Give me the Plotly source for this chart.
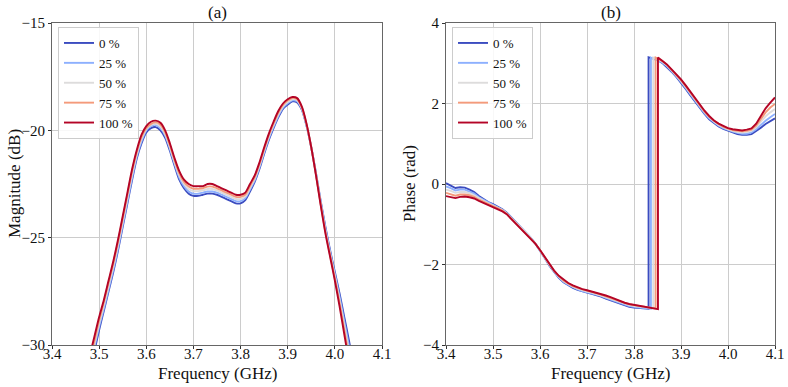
import plotly.graph_objects as go

# ---------------- data ----------------
series_labels = ["0 %", "25 %", "50 %", "75 %", "100 %"]
series_colors = ["#3b4cc0", "#8db0fe", "#dddcdc", "#f49a7b", "#b40426"]

# Magnitude (dB) sampled 3.47 .. 4.05 GHz, step 0.01
mag_freq = [round(3.47 + 0.01 * i, 2) for i in range(59)]
mag_0 = [-32.6, -31.5, -30.3, -29.3, -28.4, -27.5, -26.6, -25.6, -24.5, -23.4,
         -22.3, -21.3, -20.6, -20.1, -19.9, -19.85, -20.0, -20.35, -20.95, -21.65,
         -22.3, -22.7, -22.95, -23.05, -23.05, -23.0, -22.95, -22.95, -23.0, -23.1,
         -23.2, -23.3, -23.4, -23.4, -23.25, -22.85, -22.4, -21.8, -21.1, -20.45,
         -19.9, -19.4, -19.0, -18.8, -18.65, -18.7, -19.05, -19.8, -20.8, -22.0,
         -23.3, -24.5, -25.6, -26.6, -27.6, -28.7, -29.8, -31.0, -32.2]
mag_25 = [-32.3, -31.25, -30.1, -29.15, -28.3, -27.4, -26.5, -25.5, -24.4, -23.3,
          -22.2, -21.2, -20.5, -20.0, -19.8, -19.75, -19.9, -20.25, -20.85, -21.55,
          -22.2, -22.6, -22.85, -22.95, -22.95, -22.9, -22.85, -22.85, -22.9, -23.0,
          -23.1, -23.2, -23.3, -23.3, -23.16, -22.76, -22.33, -21.73, -21.03, -20.38,
          -19.83, -19.33, -18.94, -18.74, -18.6, -18.65, -19.01, -19.78, -20.8, -22.03,
          -23.35, -24.58, -25.68, -26.7, -27.75, -28.9, -30.05, -31.28, -32.5]
mag_50 = [-32.0, -31.0, -29.95, -29.0, -28.15, -27.25, -26.35, -25.35, -24.25, -23.15,
          -22.05, -21.1, -20.4, -19.95, -19.75, -19.7, -19.83, -20.18, -20.78, -21.48,
          -22.1, -22.5, -22.73, -22.83, -22.83, -22.8, -22.73, -22.73, -22.8, -22.9,
          -23.0, -23.1, -23.2, -23.2, -23.08, -22.68, -22.25, -21.65, -20.95, -20.3,
          -19.75, -19.25, -18.88, -18.68, -18.55, -18.6, -18.98, -19.75, -20.8, -22.05,
          -23.4, -24.65, -25.75, -26.8, -27.9, -29.1, -30.3, -31.55, -32.8]
mag_75 = [-31.7, -30.75, -29.8, -28.85, -28.0, -27.1, -26.2, -25.2, -24.1, -23.0,
          -21.9, -21.0, -20.3, -19.9, -19.7, -19.63, -19.74, -20.09, -20.69, -21.39,
          -22.0, -22.4, -22.62, -22.72, -22.72, -22.7, -22.62, -22.62, -22.7, -22.8,
          -22.9, -23.0, -23.1, -23.1, -22.99, -22.59, -22.18, -21.58, -20.88, -20.23,
          -19.68, -19.18, -18.81, -18.61, -18.5, -18.55, -18.94, -19.73, -20.8, -22.08,
          -23.45, -24.73, -25.83, -26.9, -28.05, -29.3, -30.55, -31.83, -33.1]
mag_100 = [-31.4, -30.5, -29.6, -28.7, -27.9, -27.0, -26.1, -25.1, -24.0, -22.9,
           -21.8, -20.9, -20.2, -19.8, -19.6, -19.55, -19.65, -20.0, -20.6, -21.3,
           -21.9, -22.3, -22.5, -22.6, -22.6, -22.6, -22.5, -22.5, -22.6, -22.7,
           -22.8, -22.9, -23.0, -23.0, -22.9, -22.5, -22.1, -21.5, -20.8, -20.15,
           -19.6, -19.1, -18.75, -18.55, -18.45, -18.5, -18.9, -19.7, -20.8, -22.1,
           -23.5, -24.8, -25.9, -27.0, -28.2, -29.5, -30.8, -32.1, -33.4]

# Phase (rad) sampled 3.40 .. 4.10 GHz, step 0.01 (wrapped at +/- pi)
ph_freq = [round(3.40 + 0.01 * i, 2) for i in range(71)]
ph_0 = [0.02, -0.03, -0.10, -0.08, -0.09, -0.14, -0.20, -0.30, -0.38, -0.45,
        -0.50, -0.56, -0.63, -0.72, -0.84, -0.96, -1.08, -1.20, -1.33, -1.48,
        -1.65, -1.84, -2.03, -2.19, -2.33, -2.44, -2.52, -2.58, -2.63, -2.67,
        -2.70, -2.73, -2.76, -2.80, -2.85, -2.89, -2.94, -2.98, -3.02, -3.05,
        -3.07, -3.08, -3.09, -3.10, 3.12, 3.08, 3.01, 2.91, 2.79, 2.66,
        2.52, 2.36, 2.20, 2.04, 1.88, 1.74, 1.61, 1.51, 1.43, 1.37,
        1.32, 1.28, 1.24, 1.22, 1.22, 1.24, 1.31, 1.40, 1.49, 1.56, 1.63]
ph_25 = [-0.06, -0.10, -0.16, -0.14, -0.14, -0.19, -0.24, -0.33, -0.40, -0.47,
         -0.52, -0.58, -0.64, -0.73, -0.85, -0.97, -1.09, -1.21, -1.33, -1.48,
         -1.65, -1.83, -2.02, -2.18, -2.32, -2.43, -2.50, -2.57, -2.62, -2.66,
         -2.69, -2.72, -2.75, -2.78, -2.83, -2.87, -2.92, -2.96, -3.00, -3.03,
         -3.05, -3.07, -3.08, -3.09, 3.12, 3.08, 3.02, 2.93, 2.81, 2.68,
         2.54, 2.38, 2.22, 2.06, 1.90, 1.76, 1.63, 1.53, 1.45, 1.39,
         1.34, 1.30, 1.27, 1.25, 1.25, 1.28, 1.36, 1.47, 1.57, 1.66, 1.74]
ph_50 = [-0.14, -0.17, -0.22, -0.20, -0.20, -0.23, -0.28, -0.36, -0.42, -0.48,
         -0.53, -0.59, -0.65, -0.74, -0.86, -0.98, -1.10, -1.21, -1.33, -1.48,
         -1.64, -1.83, -2.01, -2.17, -2.30, -2.41, -2.49, -2.55, -2.60, -2.64,
         -2.67, -2.70, -2.73, -2.77, -2.81, -2.85, -2.90, -2.94, -2.98, -3.01,
         -3.03, -3.05, -3.06, -3.07, -3.09, 3.11, 3.04, 2.95, 2.83, 2.70,
         2.56, 2.41, 2.25, 2.09, 1.93, 1.79, 1.66, 1.55, 1.47, 1.41,
         1.36, 1.32, 1.29, 1.28, 1.29, 1.32, 1.41, 1.55, 1.68, 1.78, 1.86]
ph_75 = [-0.22, -0.25, -0.29, -0.26, -0.26, -0.28, -0.32, -0.39, -0.45, -0.50,
         -0.55, -0.60, -0.66, -0.75, -0.87, -0.99, -1.10, -1.22, -1.34, -1.48,
         -1.64, -1.82, -2.01, -2.16, -2.29, -2.40, -2.47, -2.54, -2.58, -2.62,
         -2.65, -2.68, -2.71, -2.75, -2.79, -2.83, -2.88, -2.92, -2.96, -2.99,
         -3.01, -3.03, -3.05, -3.06, -3.08, 3.12, 3.06, 2.96, 2.84, 2.72,
         2.58, 2.43, 2.27, 2.11, 1.95, 1.80, 1.67, 1.57, 1.49, 1.42,
         1.37, 1.34, 1.32, 1.31, 1.32, 1.35, 1.45, 1.62, 1.78, 1.90, 1.99]
ph_100 = [-0.30, -0.32, -0.35, -0.32, -0.31, -0.33, -0.36, -0.42, -0.47, -0.52,
          -0.57, -0.62, -0.68, -0.76, -0.88, -1.00, -1.11, -1.22, -1.34, -1.48,
          -1.64, -1.82, -2.00, -2.15, -2.28, -2.38, -2.46, -2.52, -2.57, -2.61,
          -2.64, -2.67, -2.70, -2.73, -2.77, -2.81, -2.86, -2.91, -2.95, -2.98,
          -3.00, -3.02, -3.03, -3.05, -3.07, -3.10, 3.07, 2.97, 2.85, 2.73,
          2.60, 2.45, 2.29, 2.13, 1.97, 1.82, 1.69, 1.58, 1.50, 1.44,
          1.39, 1.36, 1.34, 1.33, 1.35, 1.38, 1.50, 1.70, 1.88, 2.02, 2.15]

# phase wrap location per series: frequency, value just before, value just after
wrap_freq = [3.831, 3.836, 3.841, 3.846, 3.851]
wrap_low = [-3.10, -3.10, -3.09, -3.09, -3.11]
wrap_high = [3.15, 3.14, 3.14, 3.14, 3.14]

mag_series = [mag_0, mag_25, mag_50, mag_75, mag_100]
ph_series = [ph_0, ph_25, ph_50, ph_75, ph_100]

x_ticks = [3.4, 3.5, 3.6, 3.7, 3.8, 3.9, 4.0, 4.1]
x_tick_text = ["3.4", "3.5", "3.6", "3.7", "3.8", "3.9", "4.0", "4.1"]
mag_ticks = [-30, -25, -20, -15]
ph_ticks = [-4, -2, 0, 2, 4]

# ---------------- figure ----------------
FONT = "Liberation Serif, Times New Roman, serif"
W, H = 788, 387
TOP, BOT = 23, 345
PLOT_H = BOT - TOP

fig = go.Figure()

for i, lab in enumerate(series_labels):
    fig.add_trace(go.Scatter(
        x=mag_freq, y=mag_series[i], mode="lines", name=lab,
        line=dict(color=series_colors[i], width=1.9, shape="spline", smoothing=0.8),
        xaxis="x", yaxis="y", legend="legend", showlegend=True))

for i, lab in enumerate(series_labels):
    xs, ys = [], []
    inserted = False
    for f, v in zip(ph_freq, ph_series[i]):
        if not inserted and f > wrap_freq[i]:
            xs += [wrap_freq[i], wrap_freq[i]]
            ys += [wrap_low[i], wrap_high[i]]
            inserted = True
        xs.append(f)
        ys.append(v)
    fig.add_trace(go.Scatter(
        x=xs, y=ys, mode="lines", name=lab,
        line=dict(color=series_colors[i], width=1.9),
        xaxis="x2", yaxis="y2", legend="legend2", showlegend=True))

axis_common = dict(
    showgrid=True, gridcolor="#cccccc", gridwidth=1,
    showline=True, linecolor="#666666", linewidth=1, mirror=True,
    ticks="outside", ticklen=3, tickcolor="#333333",
    tickfont=dict(family=FONT, size=15, color="#111111"),
    zeroline=False, automargin=False,
)
xaxis_extra = dict(ticklabelstandoff=-8)

leg_y = 1 - (27 - TOP) / PLOT_H
title_y = 1 + (TOP - 12) / PLOT_H
xtitle_y = -(373 - BOT) / PLOT_H

fig.update_layout(
    width=W, height=H,
    margin=dict(l=0, r=0, t=TOP, b=H - BOT, autoexpand=False),
    paper_bgcolor="white", plot_bgcolor="white",
    font=dict(family=FONT, size=15, color="#111111"),
    xaxis=dict(domain=[52 / W, 382 / W], range=[3.4, 4.1], anchor="y",
               tickvals=x_ticks, ticktext=x_tick_text, **xaxis_extra, **axis_common),
    yaxis=dict(domain=[0, 1], range=[-30, -15], anchor="x", tickvals=mag_ticks, **axis_common),
    xaxis2=dict(domain=[446 / W, 775 / W], range=[3.4, 4.1], anchor="y2",
                tickvals=x_ticks, ticktext=x_tick_text, **xaxis_extra, **axis_common),
    yaxis2=dict(domain=[0, 1], range=[-4, 4], anchor="x2", tickvals=ph_ticks, **axis_common),
    legend=dict(x=58 / W, y=leg_y, xanchor="left", yanchor="top",
                bgcolor="rgba(255,255,255,0.85)", bordercolor="#cccccc", borderwidth=1,
                font=dict(family=FONT, size=13), tracegroupgap=0, itemwidth=30),
    legend2=dict(x=452 / W, y=leg_y, xanchor="left", yanchor="top",
                 bgcolor="rgba(255,255,255,0.85)", bordercolor="#cccccc", borderwidth=1,
                 font=dict(family=FONT, size=13), tracegroupgap=0, itemwidth=30),
    annotations=[
        dict(text="(a)", x=(52 + 382) / 2 / W, y=title_y, xref="paper", yref="paper",
             showarrow=False, font=dict(family=FONT, size=17), xanchor="center", yanchor="middle"),
        dict(text="(b)", x=(446 + 775) / 2 / W, y=title_y, xref="paper", yref="paper",
             showarrow=False, font=dict(family=FONT, size=17), xanchor="center", yanchor="middle"),
        dict(text="Frequency (GHz)", x=(52 + 382) / 2 / W, y=xtitle_y, xref="paper", yref="paper",
             showarrow=False, font=dict(family=FONT, size=17), xanchor="center", yanchor="middle"),
        dict(text="Frequency (GHz)", x=(446 + 775) / 2 / W, y=xtitle_y, xref="paper", yref="paper",
             showarrow=False, font=dict(family=FONT, size=17), xanchor="center", yanchor="middle"),
        dict(text="Magnitude (dB)", x=14 / W, y=0.5, xref="paper", yref="paper", textangle=-90,
             showarrow=False, font=dict(family=FONT, size=17), xanchor="center", yanchor="middle"),
        dict(text="Phase (rad)", x=409 / W, y=0.5, xref="paper", yref="paper", textangle=-90,
             showarrow=False, font=dict(family=FONT, size=17), xanchor="center", yanchor="middle"),
    ],
)

fig.write_html("out.html")
